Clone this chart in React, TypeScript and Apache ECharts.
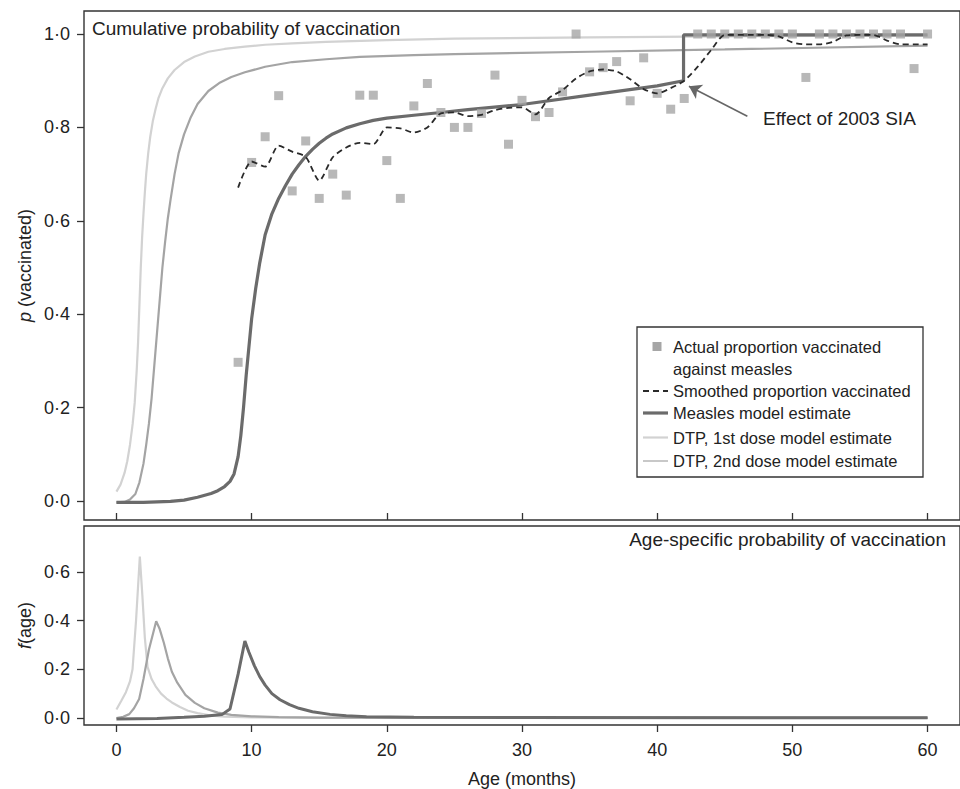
import React, { useEffect, useRef } from "react";
import * as echarts from "echarts";

const FONT = '"Liberation Sans", Arial, Helvetica, sans-serif';
const TXT = "#222";
const AX = "#333";

// Survey data: age (months) and actual proportion vaccinated against measles
const surveyAges = [9, 10, 11, 12, 13, 14, 15, 16, 17, 18, 19, 20, 21, 22, 23, 24, 25, 26, 27, 28, 29, 30, 31, 32, 33, 34, 35, 36, 37, 38, 39, 40, 41, 42, 43, 44, 45, 46, 47, 48, 49, 50, 51, 52, 53, 54, 55, 56, 57, 58, 59, 60];
const surveyProps = [0.297, 0.725, 0.78, 0.868, 0.664, 0.771, 0.648, 0.7, 0.655, 0.869, 0.869, 0.729, 0.648, 0.846, 0.894, 0.832, 0.8, 0.8, 0.83, 0.912, 0.764, 0.858, 0.823, 0.832, 0.876, 1.0, 0.919, 0.928, 0.941, 0.857, 0.949, 0.873, 0.839, 0.862, 1.0, 1.0, 1.0, 1.0, 1.0, 1.0, 1.0, 1.0, 0.907, 1.0, 1.0, 1.0, 1.0, 1.0, 1.0, 1.0, 0.926, 1.0];
// Smoothed proportion vaccinated (same ages)
const smoothedProps = [0.671, 0.727, 0.716, 0.761, 0.748, 0.737, 0.686, 0.736, 0.757, 0.767, 0.764, 0.8, 0.798, 0.789, 0.8, 0.83, 0.832, 0.824, 0.827, 0.837, 0.842, 0.843, 0.828, 0.863, 0.88, 0.905, 0.92, 0.924, 0.92, 0.903, 0.882, 0.873, 0.884, 0.9, 0.93, 0.966, 0.998, 0.998, 0.998, 0.998, 0.995, 0.982, 0.978, 0.978, 0.983, 0.997, 0.998, 0.998, 0.986, 0.978, 0.978, 0.978];

// Cumulative model estimates
const measlesCumAge = [0, 2, 4, 5, 6, 7, 7.5, 8, 8.4, 8.7, 9.0, 9.2, 9.4, 9.6, 9.8, 10.0, 10.3, 10.6, 11.0, 11.5, 12.0, 12.5, 13, 13.5, 14, 14.5, 15, 15.5, 16, 17, 18, 19, 20, 22, 24, 26, 30, 35, 40, 41.95, 41.95, 60];
const measlesCumP = [-0.003, -0.003, -0.001, 0.002, 0.008, 0.016, 0.022, 0.031, 0.042, 0.058, 0.095, 0.14, 0.2, 0.27, 0.33, 0.39, 0.455, 0.51, 0.57, 0.615, 0.648, 0.675, 0.7, 0.72, 0.738, 0.753, 0.766, 0.777, 0.786, 0.799, 0.808, 0.815, 0.82, 0.826, 0.832, 0.838, 0.849, 0.869, 0.889, 0.9, 0.998, 0.998];
const dtp1CumAge = [0, 0.3, 0.6, 0.8, 1.0, 1.2, 1.35, 1.5, 1.6, 1.7, 1.8, 1.9, 2.0, 2.1, 2.2, 2.35, 2.5, 2.7, 2.9, 3.1, 3.4, 3.8, 4.3, 5.0, 5.8, 6.8, 8, 9.5, 11, 13, 15.5, 20, 25, 35, 45, 60];
const dtp1CumP = [0.02, 0.035, 0.06, 0.085, 0.12, 0.165, 0.21, 0.28, 0.34, 0.42, 0.5, 0.565, 0.615, 0.66, 0.7, 0.745, 0.78, 0.815, 0.84, 0.862, 0.884, 0.905, 0.923, 0.94, 0.952, 0.962, 0.968, 0.973, 0.977, 0.98, 0.983, 0.987, 0.99, 0.993, 0.995, 0.997];
const dtp2CumAge = [0, 0.6, 1.0, 1.4, 1.7, 2.0, 2.2, 2.4, 2.6, 2.8, 3.0, 3.2, 3.4, 3.6, 3.8, 4.0, 4.3, 4.6, 5.0, 5.5, 6.0, 6.8, 7.6, 8.5, 9.5, 11, 13, 15.5, 18, 22, 25, 35, 45, 60];
const dtp2CumP = [-0.003, -0.002, 0.003, 0.015, 0.04, 0.08, 0.12, 0.165, 0.22, 0.29, 0.36, 0.43, 0.5, 0.555, 0.605, 0.645, 0.7, 0.745, 0.785, 0.822, 0.85, 0.878, 0.895, 0.908, 0.918, 0.93, 0.94, 0.946, 0.951, 0.955, 0.957, 0.962, 0.967, 0.975];

// Age-specific probability of vaccination f(age)
const measlesFAge = [0, 3, 5, 6.5, 7.8, 8.4, 9.0, 9.5, 9.8, 10.2, 10.6, 11.0, 11.5, 12.1, 12.8, 13.5, 14.5, 15.8, 17, 18.5, 22, 30, 60];
const measlesF = [-0.004, -0.002, 0.003, 0.007, 0.014, 0.037, 0.18, 0.316, 0.27, 0.215, 0.17, 0.135, 0.1, 0.075, 0.055, 0.04, 0.026, 0.015, 0.009, 0.005, 0.003, 0.002, 0.001];
const dtp1FAge = [0, 0.35, 0.7, 1.0, 1.19, 1.45, 1.73, 1.92, 2.1, 2.3, 2.6, 2.9, 3.3, 3.7, 4.1, 4.7, 5.3, 6.0, 7, 8, 10, 15, 60];
const dtp1F = [0.035, 0.07, 0.106, 0.15, 0.2, 0.4, 0.662, 0.5, 0.33, 0.21, 0.16, 0.13, 0.1, 0.08, 0.064, 0.045, 0.03, 0.02, 0.01, 0.006, 0.003, 0.001, 0.0005];
const dtp2FAge = [0, 0.5, 0.95, 1.3, 1.68, 2.0, 2.4, 2.94, 3.2, 3.5, 3.8, 4.1, 4.5, 5.1, 5.8, 6.5, 7.5, 8.5, 10, 12, 15, 60];
const dtp2F = [0.0, 0.005, 0.016, 0.04, 0.078, 0.16, 0.28, 0.397, 0.365, 0.31, 0.245, 0.19, 0.145, 0.095, 0.062, 0.04, 0.022, 0.013, 0.007, 0.004, 0.002, 0.001];

const xTicks = [0, 10, 20, 30, 40, 50, 60];
const pTicks = [0, 0.2, 0.4, 0.6, 0.8, 1.0];
const fTicks = [0, 0.2, 0.4, 0.6];

const C_MEASLES = "#6b6b6b";
const C_DTP1 = "#d2d2d2";
const C_DTP2 = "#a4a4a4";
const C_SQ = "#a6a6a6";
const C_DASH = "#2a2a2a";

const zip = (a: number[], b: number[]) => a.map((v, i) => [v, b[i]]);
const dotFmt = (v: number) => v.toFixed(1).replace(".", "\u00B7");

export default function App() {
  const ref = useRef<HTMLDivElement>(null);
  useEffect(() => {
    document.body.style.margin = "0";
    if (!ref.current) return;
    const chart = echarts.init(ref.current, undefined, { renderer: "svg" });

    const baseYAxis = (gridIndex: number, min: number, max: number, ticks: number[], name: string) => ({
      type: "value",
      gridIndex,
      min,
      max,
      name,
      nameLocation: "middle",
      nameRotate: 90,
      nameGap: 50,
      nameMoveOverlap: false,
      nameTextStyle: {
        fontFamily: FONT,
        fontSize: 18,
        color: TXT,
        rich: { i: { fontFamily: FONT, fontSize: 18, color: TXT, fontStyle: "italic" } },
      },
      axisLine: { show: false, onZero: false },
      splitLine: { show: false },
      axisTick: { show: true, length: 7, customValues: ticks, lineStyle: { color: AX, width: 1.3 } },
      axisLabel: {
        show: true,
        customValues: ticks,
        margin: 14,
        fontFamily: FONT,
        fontSize: 18,
        color: TXT,
        formatter: (v: number) => dotFmt(v),
      },
    });

    const option: any = {
      animation: false,
      backgroundColor: "#fff",
      grid: [
        { left: 84, top: 11, width: 888, height: 509, show: true, borderColor: AX, borderWidth: 1.4, backgroundColor: "transparent" },
        { left: 84, top: 526, width: 888, height: 200, show: true, borderColor: AX, borderWidth: 1.4, backgroundColor: "transparent" },
      ],
      xAxis: [
        {
          type: "value",
          gridIndex: 0,
          min: -2.4,
          max: 62.4,
          axisLine: { show: false, onZero: false },
          splitLine: { show: false },
          axisTick: { show: true, inside: true, length: 7, customValues: xTicks, lineStyle: { color: AX, width: 1.3 } },
          axisLabel: { show: false },
        },
        {
          type: "value",
          gridIndex: 1,
          min: -2.4,
          max: 62.4,
          name: "Age (months)",
          nameLocation: "middle",
          nameGap: 45,
          nameMoveOverlap: false,
          nameTextStyle: { fontFamily: FONT, fontSize: 18, color: TXT },
          axisLine: { show: false, onZero: false },
          splitLine: { show: false },
          axisTick: { show: true, length: 7, customValues: xTicks, lineStyle: { color: AX, width: 1.3 } },
          axisLabel: {
            show: true,
            customValues: xTicks,
            margin: 16,
            fontFamily: FONT,
            fontSize: 18,
            color: TXT,
            formatter: (v: number) => String(Math.round(v)),
          },
        },
      ],
      yAxis: [
        baseYAxis(0, -0.0407, 1.0493, pTicks, "{i|p} (vaccinated)"),
        baseYAxis(1, -0.0286, 0.7878, fTicks, "{i|f}(age)"),
      ],
      series: [
        {
          name: "DTP, 1st dose model estimate",
          type: "line",
          xAxisIndex: 0,
          yAxisIndex: 0,
          data: zip(dtp1CumAge, dtp1CumP),
          showSymbol: false,
          lineStyle: { color: C_DTP1, width: 2.2 },
          z: 2,
        },
        {
          name: "DTP, 2nd dose model estimate",
          type: "line",
          xAxisIndex: 0,
          yAxisIndex: 0,
          data: zip(dtp2CumAge, dtp2CumP),
          showSymbol: false,
          lineStyle: { color: C_DTP2, width: 2.2 },
          z: 3,
        },
        {
          name: "Measles model estimate",
          type: "line",
          xAxisIndex: 0,
          yAxisIndex: 0,
          data: zip(measlesCumAge, measlesCumP),
          showSymbol: false,
          lineStyle: { color: C_MEASLES, width: 3.2 },
          z: 4,
        },
        {
          name: "Actual proportion vaccinated against measles",
          type: "scatter",
          xAxisIndex: 0,
          yAxisIndex: 0,
          data: zip(surveyAges, surveyProps),
          symbol: "rect",
          symbolSize: 9,
          itemStyle: { color: C_SQ },
          z: 5,
          markLine: {
            silent: true,
            symbol: ["none", "arrow"],
            symbolSize: 12,
            label: { show: false },
            lineStyle: { color: "#666", width: 1.6, type: "solid" },
            data: [[{ coord: [46.67, 0.824] }, { coord: [42.35, 0.888] }]],
          },
        },
        {
          name: "Smoothed proportion vaccinated",
          type: "line",
          xAxisIndex: 0,
          yAxisIndex: 0,
          data: zip(surveyAges, smoothedProps),
          showSymbol: false,
          smooth: 0.25,
          lineStyle: { color: C_DASH, width: 1.8, type: [6, 4] },
          z: 6,
        },
        {
          name: "DTP1 f(age)",
          type: "line",
          xAxisIndex: 1,
          yAxisIndex: 1,
          data: zip(dtp1FAge, dtp1F),
          showSymbol: false,
          lineStyle: { color: C_DTP1, width: 2.2 },
          z: 2,
        },
        {
          name: "DTP2 f(age)",
          type: "line",
          xAxisIndex: 1,
          yAxisIndex: 1,
          data: zip(dtp2FAge, dtp2F),
          showSymbol: false,
          lineStyle: { color: C_DTP2, width: 2.2 },
          z: 3,
        },
        {
          name: "Measles f(age)",
          type: "line",
          xAxisIndex: 1,
          yAxisIndex: 1,
          data: zip(measlesFAge, measlesF),
          showSymbol: false,
          lineStyle: { color: C_MEASLES, width: 3 },
          z: 4,
        },
      ],
      graphic: [
        {
          type: "text",
          x: 92,
          y: 28,
          style: { text: "Cumulative probability of vaccination", fontFamily: FONT, fontSize: 19, fill: TXT, align: "left", verticalAlign: "middle" },
          z: 50,
        },
        {
          type: "text",
          x: 946,
          y: 539,
          style: { text: "Age-specific probability of vaccination", fontFamily: FONT, fontSize: 19, fill: TXT, align: "right", verticalAlign: "middle" },
          z: 50,
        },
        {
          type: "text",
          x: 763,
          y: 118,
          style: { text: "Effect of 2003 SIA", fontFamily: FONT, fontSize: 19, fill: TXT, align: "left", verticalAlign: "middle" },
          z: 50,
        },
        {
          type: "group",
          z: 60,
          children: [
            { type: "rect", shape: { x: 637, y: 327, width: 286, height: 150 }, style: { fill: "#fff", stroke: AX, lineWidth: 1.3 }, z: 60 },
            { type: "rect", shape: { x: 652.5, y: 342, width: 9, height: 9 }, style: { fill: C_SQ }, z: 61 },
            { type: "text", x: 673, y: 346.5, style: { text: "Actual proportion vaccinated", fontFamily: FONT, fontSize: 16.5, fill: TXT, verticalAlign: "middle" }, z: 61 },
            { type: "text", x: 673, y: 368.5, style: { text: "against measles", fontFamily: FONT, fontSize: 16.5, fill: TXT, verticalAlign: "middle" }, z: 61 },
            { type: "line", shape: { x1: 643, y1: 391, x2: 668, y2: 391 }, style: { stroke: C_DASH, lineWidth: 1.8, lineDash: [6, 4] }, z: 61 },
            { type: "text", x: 673, y: 391, style: { text: "Smoothed proportion vaccinated", fontFamily: FONT, fontSize: 16.5, fill: TXT, verticalAlign: "middle" }, z: 61 },
            { type: "line", shape: { x1: 643, y1: 413, x2: 668, y2: 413 }, style: { stroke: C_MEASLES, lineWidth: 3.2 }, z: 61 },
            { type: "text", x: 673, y: 413, style: { text: "Measles model estimate", fontFamily: FONT, fontSize: 16.5, fill: TXT, verticalAlign: "middle" }, z: 61 },
            { type: "line", shape: { x1: 643, y1: 437.5, x2: 668, y2: 437.5 }, style: { stroke: C_DTP1, lineWidth: 2.2 }, z: 61 },
            { type: "text", x: 673, y: 437.5, style: { text: "DTP, 1st dose model estimate", fontFamily: FONT, fontSize: 16.5, fill: TXT, verticalAlign: "middle" }, z: 61 },
            { type: "line", shape: { x1: 643, y1: 461, x2: 668, y2: 461 }, style: { stroke: C_DTP2, lineWidth: 1.2 }, z: 61 },
            { type: "text", x: 673, y: 461, style: { text: "DTP, 2nd dose model estimate", fontFamily: FONT, fontSize: 16.5, fill: TXT, verticalAlign: "middle" }, z: 61 },
          ],
        },
      ],
    };
    chart.setOption(option);
    return () => chart.dispose();
  }, []);
  return <div ref={ref} style={{ width: 960, height: 789 }} />;
}
